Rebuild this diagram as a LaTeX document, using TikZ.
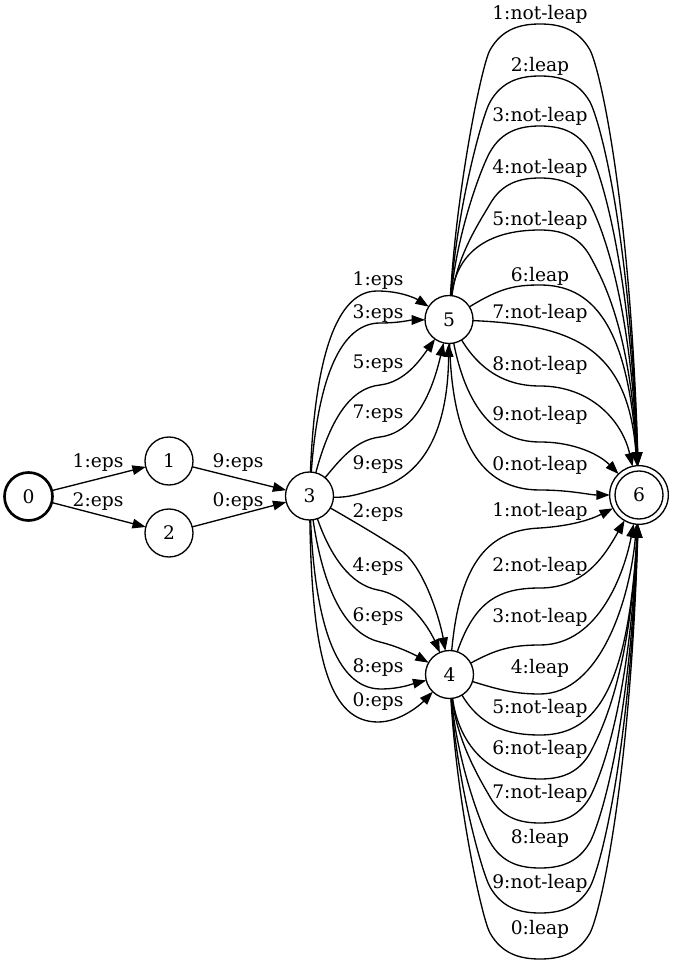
\documentclass[tikz,border=0pt]{standalone}
\usepackage{fontspec}
\setmainfont{DejaVu Serif}
\usetikzlibrary{arrows.meta}
\begin{document}
\begin{tikzpicture}[x=1pt,y=-1pt,
  state/.style={circle,draw,line width=1.33pt,minimum size=48pt,inner sep=0pt,outer sep=0pt,
    font=\fontsize{18.67}{22}\selectfont},
  trans/.style={draw,line width=1.33pt,-{Triangle[length=13.33pt,width=9.6pt]}},
  lbl/.style={inner sep=0pt,font=\fontsize{18.67}{22}\selectfont}]
\useasboundingbox (0,0) rectangle (673,965);

% states
\node[state,line width=2.67pt] (n0) at (28.5,496.5) {0};
\node[state] (n1) at (169,461) {1};
\node[state] (n2) at (169,533) {2};
\node[state] (n3) at (309.5,496) {3};
\node[state] (n5) at (449,319.5) {5};
\node[state] (n4) at (449.5,674.5) {4};
\node[state,minimum size=58.67pt] (n6) at (639,495) {6};
\draw[line width=1.33pt] (n6.center) circle[radius=24pt];

% start transitions
\draw[trans] (n0) -- (n1);
\node[lbl] (t01) at (98,463) {1:eps};
\draw[trans] (n0) -- (n2);
\node[lbl] (t02) at (98,502) {2:eps};
\draw[trans] (n1) -- (n3);
\node[lbl] (t13) at (238,463) {9:eps};
\draw[trans] (n2) -- (n3);
\node[lbl] (t23) at (238,502) {0:eps};

% 3 -> 5
\draw[trans] (n3) .. controls (314,380) and (330,291) .. (377,291) .. controls (400,291) and (415,298) .. (n5);
\node[lbl] (t35a) at (378,281) {1:eps};
\draw[trans] (n3) .. controls (318,380) and (340,323) .. (380,323) .. controls (400,323) and (410,320) .. (n5);
\node[lbl] (t35b) at (378,314) {3:eps};
\draw[trans] (n3) .. controls (330,420) and (350,388) .. (380,385) .. controls (405,382) and (420,360) .. (n5);
\node[lbl] (t35c) at (378,364) {5:eps};
\draw[trans] (n3) .. controls (340,460) and (355,440) .. (380,437) .. controls (420,432) and (435,380) .. (n5);
\node[lbl] (t35d) at (378,414) {7:eps};
\draw[trans] (n3) .. controls (350,498) and (365,492) .. (380,488) .. controls (430,472) and (448,420) .. (n5);
\node[lbl] (t35e) at (378,465) {9:eps};

% 3 -> 4
\draw[trans] (n3) .. controls (360,525) and (385,540) .. (403,552) .. controls (425,570) and (440,620) .. (n4);
\node[lbl] (t34a) at (378,513) {2:eps};
\draw[trans] (n3) .. controls (330,555) and (350,585) .. (378,590) .. controls (410,596) and (430,630) .. (n4);
\node[lbl] (t34b) at (378,567) {4:eps};
\draw[trans] (n3) .. controls (325,600) and (350,635) .. (380,642) .. controls (400,647) and (415,655) .. (n4);
\node[lbl] (t34c) at (378,617) {6:eps};
\draw[trans] (n3) .. controls (315,620) and (335,688) .. (380,689) .. controls (400,689) and (412,684) .. (n4);
\node[lbl] (t34d) at (378,668) {8:eps};
\draw[trans] (n3) .. controls (312,660) and (330,722) .. (378,722) .. controls (400,722) and (420,705) .. (n4);
\node[lbl] (t34e) at (378,702) {0:eps};

% 5 -> 6, high arches: side, shoulder, rounded top, shoulder, side
\foreach \a/\t/\k in {24/1:not-leap/a, 76/2:leap/b, 126/3:not-leap/c, 178/4:not-leap/d}{
  \draw[trans] (n5) .. controls (457,{296-0.45*(270-\a)}) and (482,{\a+40}) .. (490,{\a+26})
     .. controls (502,{\a+5}) and (520,\a) .. (540,\a)
     .. controls (560,\a) and (578,{\a+5}) .. (590,{\a+26})
     .. controls (600,{\a+45}) and (630,{\a+0.4*(466-\a)}) .. (n6);
  \node[lbl] (t56\k) at (540,{\a-10}) {\t};
}
\draw[trans] (n5) .. controls (456,255) and (485,230) .. (540,230)
   .. controls (560,230) and (578,235) .. (590,256)
   .. controls (600,275) and (630,324) .. (n6);
\node[lbl] (t56e) at (540,220) {5:not-leap};
% 5 -> 6, the rest
\draw[trans] (n5) .. controls (500,288) and (515,285) .. (540,285) .. controls (590,285) and (628,321) .. (n6);
\node[lbl] (t56f) at (540,276) {6:leap};
\draw[trans] (n5) .. controls (570,325) and (628,345) .. (n6);
\node[lbl] (t56g) at (540,313) {7:not-leap};
\draw[trans] (n5) .. controls (480,370) and (505,386) .. (540,386) .. controls (590,386) and (622,420) .. (n6);
\node[lbl] (t56h) at (540,365) {8:not-leap};
\draw[trans] (n5) .. controls (465,400) and (490,442) .. (540,442) .. controls (575,442) and (600,455) .. (n6);
\node[lbl] (t56i) at (540,415) {9:not-leap};
\draw[trans] (n5) .. controls (452,440) and (480,490) .. (540,490) .. controls (570,490) and (590,495) .. (n6);
\node[lbl] (t56j) at (540,465) {0:not-leap};

% 4 -> 6
\draw[trans] (n4) .. controls (460,560) and (490,530) .. (540,528) .. controls (570,526) and (590,520) .. (n6);
\node[lbl] (t46a) at (540,511) {1:not-leap};
\draw[trans] (n4) .. controls (475,600) and (500,588) .. (540,588) .. controls (585,588) and (605,555) .. (n6);
\node[lbl] (t46b) at (540,566) {2:not-leap};
\draw[trans] (n4) .. controls (495,650) and (510,645) .. (540,645) .. controls (600,645) and (625,570) .. (n6);
\node[lbl] (t46c) at (540,617) {3:not-leap};
\draw[trans] (n4) .. controls (500,690) and (515,694) .. (540,694) .. controls (600,694) and (630,600) .. (n6);
\node[lbl] (t46d) at (540,668) {4:leap};
\draw[trans] (n4) .. controls (480,725) and (505,735) .. (540,735) .. controls (590,735) and (628,700) .. (n6);
\node[lbl] (t46e) at (540,708) {5:not-leap};
\draw[trans] (n4) .. controls (458,740) and (485,779) .. (540,779)
   .. controls (560,779) and (578,774) .. (590,753)
   .. controls (600,734) and (630,677) .. (n6);
\node[lbl] (t46f) at (540,749) {6:not-leap};
% 4 -> 6, deep arches
\foreach \b/\t/\k in {823/7:not-leap/g, 868/8:leap/h, 913/9:not-leap/i, 959/0:leap/j}{
  \draw[trans] (n4) .. controls (457,{698+0.45*(\b-724)}) and (482,{\b-40}) .. (490,{\b-26})
     .. controls (502,{\b-5}) and (520,\b) .. (540,\b)
     .. controls (560,\b) and (578,{\b-5}) .. (590,{\b-26})
     .. controls (600,{\b-45}) and (630,{\b-0.4*(\b-524)}) .. (n6);
  \node[lbl] (t46\k) at (540,{\b-30}) {\t};
}
\end{tikzpicture}
\end{document}
